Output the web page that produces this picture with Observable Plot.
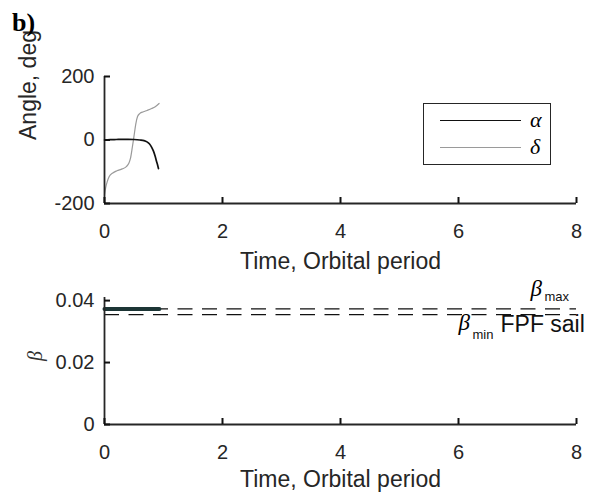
<!DOCTYPE html>
<html><head><meta charset="utf-8">
<script src="https://cdn.jsdelivr.net/npm/d3@7"></script>
<script src="https://cdn.jsdelivr.net/npm/@observablehq/plot@0.6"></script>
<style>
body{margin:0;background:#fff;}
#wrap{position:relative;width:596px;height:497px;overflow:hidden;font-family:"Liberation Sans",Arial,sans-serif;color:#262626;background:#fff;}
#wrap svg{display:block;}
#tag{position:absolute;left:12px;top:9px;font:bold 26px "Liberation Serif","Times New Roman",serif;color:#000;line-height:28px;}
#legend{position:absolute;left:423px;top:103px;width:126px;height:60px;border:1.3px solid #262626;background:#fff;}
.lrow{position:absolute;left:16px;height:0;}
.lline{position:absolute;left:0;width:81px;top:0;}
.ltext{position:absolute;left:90px;top:-14px;font:italic 22px "Liberation Serif","Times New Roman",serif;color:#000;line-height:26px;}
</style>
</head><body>
<div id="wrap"><div id="tag">b)</div></div>
<script>
// ---- data ----
const tTicks = [0, 2, 4, 6, 8];
const angleTicks = [-200, 0, 200];
const betaTicks = [0, 0.02, 0.04];

const alphaT = [0, 0.1, 0.2, 0.3, 0.4, 0.5, 0.6, 0.67, 0.72, 0.76, 0.8, 0.83, 0.86, 0.88, 0.9, 0.915];
const alphaV = [0, 1, 1.5, 2, 2, 1.5, 0, -2, -6, -12, -23, -35, -52, -66, -79, -90];

const deltaT = [0, 0.02, 0.045, 0.08, 0.14, 0.21, 0.3, 0.37, 0.41, 0.44, 0.47, 0.5, 0.53, 0.56, 0.6, 0.66, 0.72, 0.8, 0.86, 0.925];
const deltaV = [-172, -150, -132, -115, -104, -97, -91, -84, -74, -58, -25, 12, 50, 74, 84, 89, 93, 99, 105, 115];

const betaT = [0, 0.93];
const betaV = [0.0373, 0.0373];
const betaMax = 0.0373;
const betaMin = 0.0355;

const seriesNames = ["α", "δ"];
const seriesColors = ["#111111", "#9a9a9a"];
const seriesWidths = [1.7, 1.2];

// ---- tables ----
const alpha = alphaT.map((t, i) => ({t, v: alphaV[i]}));
const delta = deltaT.map((t, i) => ({t, v: deltaV[i]}));
const beta = betaT.map((t, i) => ({t, v: betaV[i]}));
const tEnd = tTicks[tTicks.length - 1];

const ink = "#262626";
const baseStyle = {fontFamily: "'Liberation Sans', Arial, sans-serif", fontSize: "20px", color: ink, background: "transparent", overflow: "visible"};
const fmt = d => String(d);
const W = 596, ML = 104, MR = 20, TICK = 6;

// axes in MATLAB style: labels outside, short ticks pointing into the plot
function axes(yTicks, frameH) {
  return [
    Plot.axisX({ticks: tTicks, tickSize: 0, tickPadding: 20, tickFormat: fmt, fill: ink}),
    Plot.axisY({ticks: yTicks, tickSize: 0, tickPadding: 10, tickFormat: fmt, fill: ink}),
    Plot.ruleX(tTicks, {x: d => d, insetTop: frameH - TICK, stroke: "#111", strokeWidth: 2}),
    Plot.ruleY(yTicks, {y: d => d, insetRight: (W - ML - MR) - TICK, stroke: "#111", strokeWidth: 2})
  ];
}

const topH = 280, topMT = 76, topMB = 77;
const topPlot = Plot.plot({
  width: W, height: topH,
  marginLeft: ML, marginRight: MR, marginTop: topMT, marginBottom: topMB,
  style: baseStyle,
  x: {domain: [0, tEnd], label: null},
  y: {domain: [angleTicks[0], angleTicks[angleTicks.length - 1]], label: null},
  marks: [
    Plot.line(delta, {x: "t", y: "v", stroke: seriesColors[1], strokeWidth: seriesWidths[1], curve: "monotone-x"}),
    Plot.line(alpha, {x: "t", y: "v", stroke: seriesColors[0], strokeWidth: seriesWidths[0], curve: "monotone-x"}),
    Plot.ruleX([0], {stroke: ink, strokeWidth: 1.8}),
    Plot.ruleY([angleTicks[0]], {stroke: ink, strokeWidth: 1.8}),
    ...axes(angleTicks, topH - topMT - topMB),
    Plot.text(["Angle, deg"], {text: d => d, frameAnchor: "left", dx: -76, rotate: -90, fontSize: 23, fill: ink}),
    Plot.text(["Time, Orbital period"], {text: d => d, frameAnchor: "bottom", lineAnchor: "top", dy: 49, fontSize: 23, fill: ink})
  ]
});

const ann = [
  {t: tEnd, v: betaMax, s: "β", dx: -46, dy: -13, size: 23, italic: true},
  {t: tEnd, v: betaMax, s: "max", dx: -32, dy: -8, size: 13, italic: false},
  {t: tEnd, v: betaMin, s: "β", dx: -118, dy: 15, size: 23, italic: true},
  {t: tEnd, v: betaMin, s: "min", dx: -104, dy: 24, size: 13, italic: false},
  {t: tEnd, v: betaMin, s: "FPF sail", dx: -76, dy: 17, size: 23, italic: false}
];

const botH = 217, botMT = 17, botMB = 73;
const botPlot = Plot.plot({
  width: W, height: botH,
  marginLeft: ML, marginRight: MR, marginTop: botMT, marginBottom: botMB,
  style: baseStyle,
  x: {domain: [0, tEnd], label: null},
  y: {domain: [0, 0.041], label: null},
  marks: [
    Plot.ruleY([betaMax, betaMin], {stroke: "#111", strokeWidth: 1.3, strokeDasharray: "15,9.5"}),
    Plot.line(beta, {x: "t", y: "v", stroke: "#1c3535", strokeWidth: 4}),
    Plot.ruleX([0], {stroke: ink, strokeWidth: 1.8}),
    Plot.ruleY([0], {stroke: ink, strokeWidth: 1.8}),
    ...axes(betaTicks, botH - botMT - botMB),
    ...ann.map(a => Plot.text([a], {x: "t", y: "v", text: "s", dx: a.dx, dy: a.dy, textAnchor: "start", lineAnchor: "bottom",
      fontSize: a.size, fill: a.italic ? "#000" : "#111",
      fontStyle: a.italic ? "italic" : "normal",
      fontFamily: a.italic ? "'Liberation Serif', 'Times New Roman', serif" : "'Liberation Sans', Arial, sans-serif"})),
    Plot.text(["β"], {text: d => d, frameAnchor: "left", dx: -69, rotate: -90, fontSize: 20, fontStyle: "italic", fontFamily: "'Liberation Serif', serif", fill: "#333"}),
    Plot.text(["Time, Orbital period"], {text: d => d, frameAnchor: "bottom", lineAnchor: "top", dy: 46, fontSize: 23, fill: ink})
  ]
});

const wrap = document.getElementById("wrap");
wrap.appendChild(topPlot);
wrap.appendChild(botPlot);

// legend (inside the top panel, as in the reference)
const legend = document.createElement("div");
legend.id = "legend";
seriesNames.forEach((name, i) => {
  const row = document.createElement("div");
  row.className = "lrow";
  row.style.top = (17 + i * 26.7) + "px";
  const line = document.createElement("div");
  line.className = "lline";
  line.style.borderTop = seriesWidths[i] + "px solid " + seriesColors[i];
  line.style.marginTop = (-seriesWidths[i] / 2) + "px";
  const txt = document.createElement("div");
  txt.className = "ltext";
  txt.textContent = name;
  row.appendChild(line);
  row.appendChild(txt);
  legend.appendChild(row);
});
wrap.appendChild(legend);
</script>
</body></html>
